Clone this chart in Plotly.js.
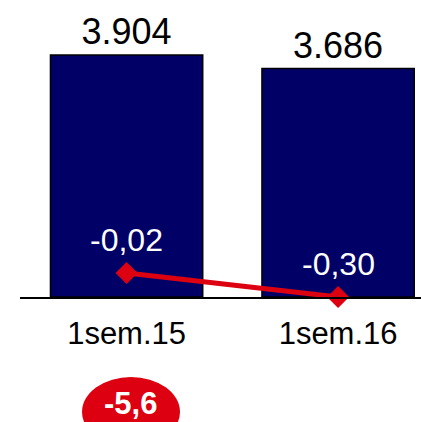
<!DOCTYPE html>
<html>
<head>
<meta charset="utf-8">
<script src="https://cdn.plot.ly/plotly-3.0.1.min.js"></script>
<style>
html,body{margin:0;padding:0;background:#fff;}
#chart{width:421px;height:422px;}
</style>
</head>
<body>
<div id="chart"></div>
<script>
// Data
const categories = ['1sem.15', '1sem.16'];
const barValues = [3904, 3686];
const lineValues = [-0.02, -0.30];
const changeLabel = '-5,6';

const FONT = 'Arial, "Liberation Sans", sans-serif';
const NAVY = '#000066';
const RED = '#dc0010';

const fmt2 = v => v.toFixed(2).replace('.', ',');

const barTrace = {
  type: 'bar',
  x: categories,
  y: barValues,
  width: 0.72,
  marker: {color: NAVY, line: {color: '#000000', width: 1.5}},
  texttemplate: '%{y:,.0f}',
  textposition: 'outside',
  textfont: {family: FONT, size: 36, color: '#000000'},
  cliponaxis: false,
  hoverinfo: 'none'
};

const lineTrace = {
  type: 'scatter',
  mode: 'lines+markers',
  x: categories,
  y: lineValues,
  yaxis: 'y2',
  line: {color: RED, width: 5},
  marker: {symbol: 'diamond', size: 17, color: RED},
  cliponaxis: false,
  hoverinfo: 'none'
};

const annotations = categories.map((c, i) => ({
  x: c, y: lineValues[i], xref: 'x', yref: 'y2',
  xanchor: 'center', yanchor: 'middle',
  text: fmt2(lineValues[i]),
  showarrow: false,
  yshift: 33,
  font: {family: FONT, size: 32, color: '#ffffff'}
}));

annotations.push({
  xref: 'paper', yref: 'paper',
  x: (130 - 20) / 401, y: (297 - 403) / 297,
  xanchor: 'center', yanchor: 'middle',
  text: '<b>' + changeLabel + '</b>',
  showarrow: false,
  font: {family: FONT, size: 31, color: '#ffffff'}
});

const layout = {
  width: 421, height: 422,
  margin: {l: 20, r: 0, t: 0, b: 125},
  paper_bgcolor: '#ffffff',
  plot_bgcolor: 'rgba(0,0,0,0)',
  separators: ',.',
  showlegend: false,
  font: {family: FONT},
  xaxis: {
    type: 'category',
    range: [-0.504, 1.392],
    showline: true, linecolor: '#000000', linewidth: 1.5,
    ticks: '', showgrid: false, zeroline: false,
    ticklabelstandoff: 8,
    tickfont: {family: FONT, size: 31, color: '#000000'}
  },
  yaxis: {
    range: [0, 4791], visible: false, showgrid: false, zeroline: false
  },
  yaxis2: {
    overlaying: 'y', range: [-0.30, 3.166], visible: false, showgrid: false, zeroline: false
  },
  shapes: [{
    type: 'circle', xref: 'paper', yref: 'paper',
    x0: (82 - 20) / 401, x1: (180 - 20) / 401,
    y0: (297 - 447) / 297, y1: (297 - 377) / 297,
    fillcolor: RED, line: {width: 0}, layer: 'below'
  }],
  annotations: annotations
};

Plotly.newPlot('chart', [barTrace, lineTrace], layout, {displayModeBar: false, staticPlot: true});
</script>
</body>
</html>
